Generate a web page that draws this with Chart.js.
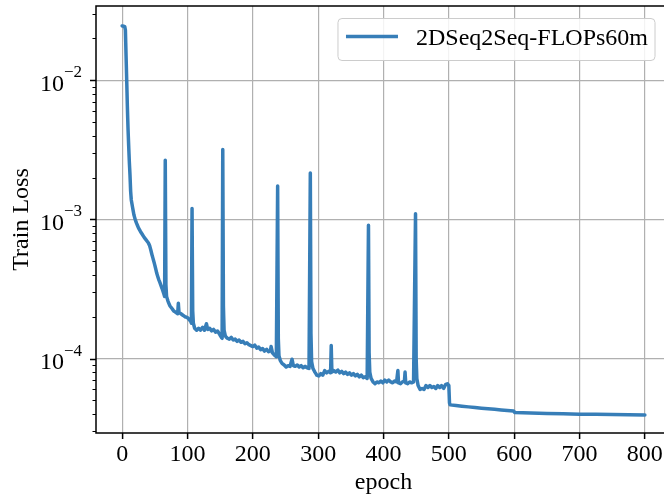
<!DOCTYPE html>
<html lang="en">
<head>
  <meta charset="UTF-8">
  <title>Train Loss</title>
  <script src="https://cdn.jsdelivr.net/npm/chart.js@4"></script>
  <style>
    html, body { margin: 0; padding: 0; background: #fff; overflow: hidden; }
    .wrap { width: 672px; height: 495px; }
  </style>
</head>
<body>
  <div class="wrap"><canvas id="lossChart"></canvas></div>
  <script>
    // ---- data ----
    const seriesLabel = '2DSeq2Seq-FLOPs60m';
    const epochs = [
      0, 2, 4, 5, 6, 7, 8, 9, 10, 11, 12, 13, 14, 16,
      18, 20, 22, 25, 28, 31, 34, 37, 40, 42, 44, 46, 48, 50, 53, 56, 58, 61, 63, 65,
      66, 67, 68, 70, 73, 76, 79, 82, 85, 86, 87, 90, 93, 96, 99, 101, 103, 105, 106,
      107, 108, 109, 111, 114, 117, 120, 123, 126, 129, 131, 134, 137, 140, 143, 146, 149, 152, 153,
      154, 155, 156, 158, 161, 164, 167, 170, 173, 176, 179, 182, 185, 188, 191, 194,
      197, 200, 203, 206, 209, 212, 215, 218, 221, 224, 227, 228, 230, 233, 236,
      238, 239, 240, 242, 245, 248, 251, 254, 257, 260, 262, 265, 268, 271, 274, 277, 280, 283, 286,
      288, 289, 290, 292, 295, 298, 301, 304, 307, 310, 313, 316, 319, 320, 321, 324,
      327, 330, 333, 336, 339, 342, 345, 348, 351, 354, 357, 360, 363, 366, 369, 372, 375,
      377, 378, 379, 381, 384, 387, 390, 393, 396, 399, 402, 405, 408, 411,
      414, 417, 420, 422, 423, 426, 429, 432, 433, 434, 437, 440, 443, 446,
      449, 450, 451, 453, 456, 459, 462, 465, 468, 471, 474, 477, 480, 483, 486, 489, 492, 495, 498, 500,
      501, 502, 520, 540, 560, 580, 599, 601, 650, 700, 750, 800
    ];
    const trainLoss = [
      0.0246, 0.0245, 0.0243, 0.0230, 0.0150, 0.0100, 0.0065, 0.0045, 0.0034, 0.0026, 0.0021, 0.0016, 0.00138, 0.00122,
      0.00108, 0.00100, 0.00094, 0.00087, 0.00082, 0.00078, 0.00074, 0.00071, 0.00068, 0.00065, 0.00060, 0.00055, 0.00051, 0.00047, 0.00041, 0.00037, 0.00035, 0.00032, 0.00030, 0.00028,
      0.00266, 0.00034, 0.00028, 0.00026, 0.00024, 0.00023, 0.00022, 0.000215, 0.00021, 0.00025, 0.000215, 0.00021, 0.000205, 0.0002, 0.000198, 0.000195, 0.00019, 0.000185, 0.00018,
      0.0012, 0.00022, 0.00018, 0.000165, 0.00016, 0.000165, 0.00016, 0.000168, 0.00016, 0.000178, 0.000162, 0.000165, 0.000158, 0.000162, 0.000155, 0.000158, 0.00015, 0.000142, 0.00014,
      0.00318, 0.00024, 0.00016, 0.000145, 0.00014, 0.000138, 0.000142, 0.000136, 0.000138, 0.000133, 0.000136, 0.000131, 0.000133, 0.000128, 0.00013, 0.000126,
      0.000124, 0.000122, 0.000125, 0.000119, 0.000121, 0.000116, 0.000118, 0.000113, 0.000117, 0.000112, 0.000114, 0.000122, 0.00011, 0.000106, 0.000103,
      0.00174, 0.00014, 0.000105, 0.000097, 0.000092, 0.00009, 0.000087, 0.000089, 0.000088, 0.000099, 0.000089, 0.000088, 0.00009, 0.000087, 0.000089, 0.000086, 0.000088, 0.000086, 0.000085,
      0.00216, 0.00015, 0.000095, 0.000085, 0.00008, 0.000076, 0.000075, 0.000078, 0.000076, 0.000082, 0.000079, 0.000081, 0.000079, 0.000124, 0.00008, 0.000082,
      0.00008, 0.000083, 0.000079, 0.000081, 0.000078, 0.00008, 0.000077, 0.000079, 0.000076, 0.000078, 0.000075, 0.000077, 0.000074, 0.000076, 0.000073, 0.000074, 0.000072,
      0.00091, 0.00011, 0.00008, 0.000072, 0.000068, 0.000066, 0.000068, 0.000067, 0.000069, 0.000067, 0.00007, 0.000068, 0.00007, 0.000068,
      0.000067, 0.000069, 0.000068, 0.000082, 0.000067, 0.000066, 0.000068, 0.000069, 0.00008, 0.000067, 0.000066, 0.000068, 0.000067, 0.000068,
      0.0011, 0.0001, 0.000072, 0.000064, 0.00006, 0.000061, 0.00006, 0.000064, 0.000062, 0.000064, 0.000062, 0.000063, 0.000061, 0.000064, 0.000062, 0.000064, 0.000061, 0.000065, 0.000066, 0.000064,
      0.000048, 0.0000465, 0.0000455, 0.0000445, 0.0000436, 0.0000428, 0.000042, 0.000041, 0.0000403, 0.0000399, 0.0000396, 0.0000394
    ];
    const xTicks = [0, 100, 200, 300, 400, 500, 600, 700, 800];
    const yDecades = [1e-4, 1e-3, 1e-2];
    const yDecadeExp = ['\u22124', '\u22123', '\u22122'];

    const serif = "'Liberation Serif', 'Times New Roman', serif";
    const lineColor = '#377eb8';
    const gridColor = '#b0b0b0';

    // decade check for log ticks (1, 10, 100 ... times a power of ten)
    function isDecade(v) {
      const l = Math.log10(v);
      return Math.abs(l - Math.round(l)) < 1e-6;
    }

    // y labels as 10^n, y tick marks, frame and legend box
    const decor = {
      id: 'decor',
      afterDraw(chart) {
        const { ctx, chartArea: a, scales: { y } } = chart;
        ctx.save();
        ctx.strokeStyle = '#000';
        y.ticks.forEach(t => {
          const major = isDecade(t.value);
          const py = Math.round(y.getPixelForValue(t.value)) + 0.5;
          ctx.lineWidth = major ? 1.5 : 1;
          ctx.beginPath();
          ctx.moveTo(a.left - (major ? 6 : 3.5), py);
          ctx.lineTo(a.left, py);
          ctx.stroke();
        });

        ctx.fillStyle = '#000';
        ctx.textAlign = 'left';
        ctx.textBaseline = 'alphabetic';
        yDecades.forEach((v, i) => {
          const py = y.getPixelForValue(v);
          ctx.font = '24px ' + serif;
          const w1 = ctx.measureText('10').width;
          ctx.font = '17px ' + serif;
          const w2 = ctx.measureText(yDecadeExp[i]).width;
          const x0 = a.left - 14 - w1 - w2;
          ctx.font = '24px ' + serif;
          ctx.fillText('10', x0, py + 10.5);
          ctx.font = '17px ' + serif;
          ctx.fillText(yDecadeExp[i], x0 + w1, py - 3);
        });

        // axes frame
        ctx.lineWidth = 1.5;
        ctx.strokeRect(a.left, a.top, a.right - a.left, a.bottom - a.top);

        // legend
        ctx.font = '24px ' + serif;
        const tw = ctx.measureText(seriesLabel).width;
        const bw = 8 + 52 + 18 + tw + 7;
        const bx = a.right - 16 - bw;
        const by = a.top + 12.5;
        const bh = 42;
        ctx.beginPath();
        ctx.roundRect(bx, by, bw, bh, 4);
        ctx.fillStyle = 'rgba(255,255,255,0.85)';
        ctx.fill();
        ctx.lineWidth = 1;
        ctx.strokeStyle = '#cccccc';
        ctx.stroke();
        ctx.beginPath();
        ctx.moveTo(bx + 8, by + 18);
        ctx.lineTo(bx + 60, by + 18);
        ctx.lineWidth = 3.5;
        ctx.strokeStyle = lineColor;
        ctx.stroke();
        ctx.fillStyle = '#000';
        ctx.fillText(seriesLabel, bx + 78, by + 26.5);
        ctx.restore();
      }
    };

    new Chart(document.getElementById('lossChart'), {
      type: 'line',
      data: {
        datasets: [{
          label: seriesLabel,
          data: epochs.map((e, i) => ({ x: e, y: trainLoss[i] })),
          borderColor: lineColor,
          borderWidth: 3.5,
          pointRadius: 0,
          tension: 0.001, // tiny tension keeps Chart.js off its pixel-merging fast path
          borderJoinStyle: 'round',
          borderCapStyle: 'round'
        }]
      },
      options: {
        responsive: true,
        maintainAspectRatio: false,
        animation: false,
        layout: { padding: { top: 6, right: 1, bottom: 0, left: 0 } },
        plugins: { legend: { display: false }, tooltip: { enabled: false } },
        scales: {
          x: {
            type: 'linear',
            min: -40,
            max: 840,
            afterBuildTicks: s => { s.ticks = xTicks.map(v => ({ value: v })); },
            afterFit: s => { s.height = 62; },
            ticks: { font: { family: serif, size: 24 }, color: '#000', padding: 1, maxRotation: 0, autoSkip: false },
            grid: { color: gridColor, lineWidth: 1.2, tickColor: '#000', tickLength: 6, tickWidth: 1.5 },
            border: { display: false },
            title: { display: true, text: 'epoch', color: '#000', font: { family: serif, size: 24, lineHeight: 1 }, padding: { top: 0, bottom: 0 } }
          },
          y: {
            type: 'logarithmic',
            min: 2.92e-5,
            max: 0.0342,
            afterBuildTicks: s => {
              const t = [];
              for (let e = -5; e <= -2; e++) {
                for (let k = 1; k <= 9; k++) {
                  const v = k * Math.pow(10, e);
                  if (v >= s.min && v <= s.max) t.push({ value: v });
                }
              }
              s.ticks = t;
            },
            afterFit: s => { s.width = 96; },
            ticks: { display: false, autoSkip: false },
            grid: {
              drawTicks: false,
              lineWidth: 1.2,
              color: c => (c.tick && isDecade(c.tick.value)) ? gridColor : 'rgba(0,0,0,0)'
            },
            border: { display: false },
            title: { display: true, text: 'Train Loss', color: '#000', font: { family: serif, size: 24, lineHeight: 1 }, padding: { top: 10, bottom: 0 } }
          }
        }
      },
      plugins: [decor]
    });
  </script>
</body>
</html>
